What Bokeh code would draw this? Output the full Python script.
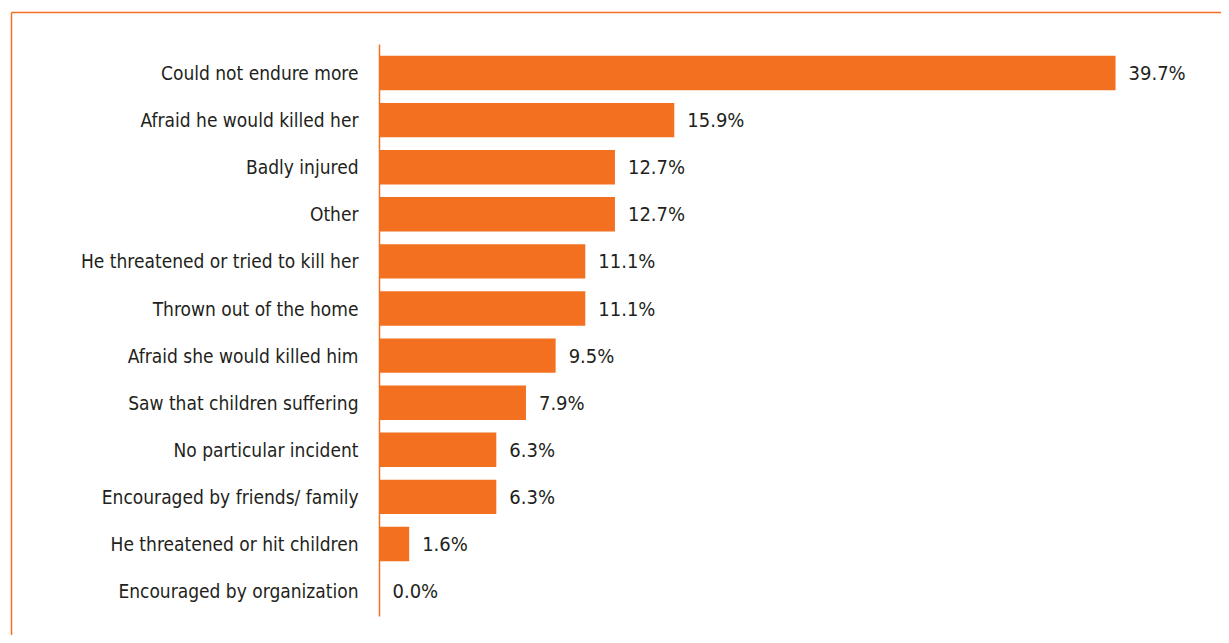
from bokeh.plotting import figure
from bokeh.models import ColumnDataSource, Range1d
from bokeh.core.properties import value
from bokeh.embed import file_html
from bokeh.resources import INLINE

categories = [
    "Could not endure more",
    "Afraid he would killed her",
    "Badly injured",
    "Other",
    "He threatened or tried to kill her",
    "Thrown out of the home",
    "Afraid she would killed him",
    "Saw that children suffering",
    "No particular incident",
    "Encouraged by friends/ family",
    "He threatened or hit children",
    "Encouraged by organization",
]
values = [39.7, 15.9, 12.7, 12.7, 11.1, 11.1, 9.5, 7.9, 6.3, 6.3, 1.6, 0.0]
value_labels = [f"{v:.1f}%" for v in values]

ORANGE = "#F37021"
TEXT = "#231F20"
FONT = "DejaVu Sans Condensed, Roboto, sans-serif"

W, H = 1221, 635
x0_px, px_per_x = 379.0, 18.54
y0_px, px_per_y = 72.5, 47.1


def px_x(px):
    return (px - x0_px) / px_per_x


def px_y(px):
    return (px - y0_px) / px_per_y


positions = list(range(len(categories)))
src = ColumnDataSource(dict(y=positions, right=values, cat=categories, lab=value_labels))

p = figure(width=W, height=H, output_backend="svg", toolbar_location=None,
           x_axis_type=None, y_axis_type=None,
           x_range=Range1d(px_x(0), px_x(W)),
           y_range=Range1d(px_y(H), px_y(0)),
           min_border=0, min_border_left=0, min_border_right=0,
           min_border_top=0, min_border_bottom=0)
p.outline_line_color = None
p.xgrid.visible = False
p.ygrid.visible = False
p.background_fill_color = "white"
p.border_fill_color = "white"

# outer frame (left & top edges visible)
p.segment(x0=[px_x(11), px_x(11)], y0=[px_y(12), px_y(12)],
          x1=[px_x(11), px_x(2000)], y1=[px_y(2000), px_y(12)],
          line_color=ORANGE, line_width=1.5)

p.hbar(y="y", left=0, right="right", height=0.73, source=src,
       fill_color=ORANGE, line_color=None)

# baseline axis line
p.segment(x0=[0], y0=[px_y(44)], x1=[0], y1=[px_y(616)],
          line_color=ORANGE, line_width=1.5)

p.text(x=0, y="y", text="cat", source=src, x_offset=-21,
       text_align="right", text_baseline="middle",
       text_font=value(FONT), text_font_size="19px", text_color=TEXT)

p.text(x="right", y="y", text="lab", source=src, x_offset=13,
       text_align="left", text_baseline="middle",
       text_font=value(FONT), text_font_size="20px", text_color=TEXT)

open("out.html", "w").write(file_html(p, INLINE))
